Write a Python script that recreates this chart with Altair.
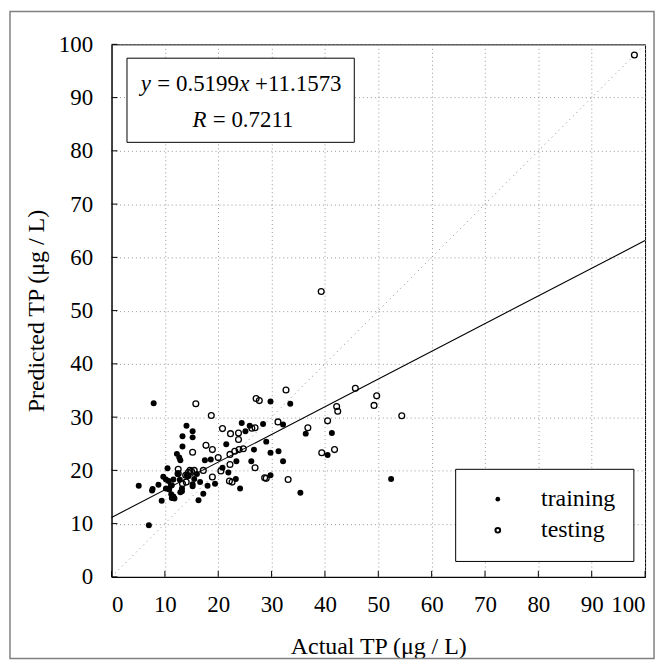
import altair as alt
import pandas as pd

# ---------------- data ----------------
train_x = [5.1, 7.0, 7.9, 7.6, 7.7, 8.8, 9.4, 9.7, 10.2, 10.7, 10.5, 10.2, 11.1, 11.2, 11.6, 11.3,
           11.6, 12.4, 12.25, 12.7, 12.9, 13.3, 13.3, 13.2, 14.05, 15.2, 15.2, 14.4, 15.2, 16.3,
           16.6, 17.2, 18.0, 17.5, 18.6, 19.4, 21.5, 20.8, 21.9, 23.3, 24.1, 24.4, 25.1, 25.9,
           23.4, 26.2, 26.7, 29.8, 33.5, 28.4, 32.15, 29.0, 36.4, 41.3, 29.8, 31.3, 32.15, 40.5,
           29.8, 35.4, 52.4, 15.5, 16.0, 14.1, 15.2, 12.8, 13.2, 11.3, 10.8, 11.8, 12.9]
train_y = [17.1, 9.7, 32.6, 16.2, 16.5, 17.3, 14.3, 18.8, 18.3, 18.0, 20.4, 16.6, 17.1, 15.5, 15.1, 14.8,
           18.3, 19.3, 23.1, 22.4, 21.9, 26.4, 24.5, 16.6, 28.4, 27.35, 26.2, 18.9, 17.4, 14.4,
           17.8, 15.6, 17.1, 21.9, 22.05, 17.5, 24.9, 20.5, 19.6, 18.4, 16.6, 28.9, 27.35, 28.4,
           21.7, 21.7, 23.9, 32.95, 32.5, 28.7, 28.6, 25.4, 26.9, 27.0, 23.3, 23.6, 21.7, 22.9,
           19.1, 15.8, 18.4, 18.4, 19.3, 19.1, 17.0, 18.25, 16.1, 17.2, 16.4, 14.7, 15.9]

test_x = [98.0, 39.3, 15.8, 18.7, 20.8, 22.3, 23.8, 23.8, 26.9, 26.3, 27.1, 27.7, 17.7, 18.9, 15.2,
          20.0, 22.2, 23.1, 23.9, 24.7, 22.2, 20.5, 22.1, 22.6, 18.9, 17.2, 14.7, 14.4, 13.9, 12.5,
          12.5, 13.3, 14.0, 15.0, 15.5, 26.9, 32.7, 42.2, 42.4, 49.7, 49.2, 31.2, 36.8, 40.5, 39.4,
          41.8, 28.7, 29.0, 33.1, 45.7, 54.4]
test_y = [98.0, 53.6, 32.5, 30.3, 27.85, 26.9, 27.0, 25.8, 28.0, 27.9, 33.5, 33.1, 24.7, 23.9, 23.4,
          22.4, 23.0, 23.6, 23.9, 24.05, 21.1, 19.9, 18.0, 17.8, 18.75, 20.0, 20.0, 19.6, 19.1, 20.2,
          19.4, 17.5, 17.8, 19.8, 20.0, 20.5, 35.1, 32.0, 31.1, 34.0, 32.2, 29.1, 28.0, 29.3, 23.3,
          23.9, 18.6, 18.5, 18.3, 35.4, 30.25]

axis_ticks = [0, 10, 20, 30, 40, 50, 60, 70, 80, 90, 100]
fit_slope = 0.5199
fit_intercept = 11.1573
fit_r = 0.7211
series_names = ["training", "testing"]
x_title = "Actual TP (μg / L)"
y_title = "Predicted TP (μg / L)"

# ---------------- layout / style ----------------
W, H = 536, 535
FONT = "Liberation Serif"
FS = 23       # tick labels
TFS = 24      # axis titles
EQ_FS = 23    # equation
LEG_FS = 24   # legend

xs = alt.Scale(domain=[0, 100], nice=False, zero=False)
ys = alt.Scale(domain=[0, 100], nice=False, zero=False)
X = alt.X("x:Q", scale=xs, title=x_title, axis=alt.Axis(values=axis_ticks))
Y = alt.Y("y:Q", scale=ys, title=y_title, axis=alt.Axis(values=axis_ticks))

train = pd.DataFrame({"x": train_x, "y": train_y})
test = pd.DataFrame({"x": test_x, "y": test_y})
fit = pd.DataFrame({"x": [0, 100], "y": [fit_intercept, fit_intercept + fit_slope * 100]})
diag = pd.DataFrame({"x": [0, 100], "y": [0, 100]})
xt = pd.DataFrame({"x": axis_ticks})
yt = pd.DataFrame({"y": axis_ticks})

diag_layer = alt.Chart(diag).mark_line(color="#888888", strokeDash=[1, 4], strokeWidth=1).encode(X, Y)
fit_layer = alt.Chart(fit).mark_line(color="black", strokeWidth=1.1).encode(X, Y)
train_layer = alt.Chart(train).mark_point(filled=True, color="black", size=36, opacity=1).encode(X, Y)
test_layer = alt.Chart(test).mark_point(filled=False, color="black", size=34, strokeWidth=1.3, opacity=1).encode(X, Y)

xtick_layer = alt.Chart(xt).mark_rule(color="black", strokeWidth=1).encode(X, y=alt.value(H), y2=alt.value(H - 6))
ytick_layer = alt.Chart(yt).mark_rule(color="black", strokeWidth=1).encode(Y, x=alt.value(0), x2=alt.value(6))

# legend box (drawn in data space)
leg_box = pd.DataFrame({"x": [64.5], "x2": [97.9], "y": [2.9], "y2": [20.2]})
leg_box_layer = alt.Chart(leg_box).mark_rect(fill="white", stroke="black", strokeWidth=1).encode(
    X, Y, x2="x2:Q", y2="y2:Q")
leg_pts = pd.DataFrame({"x": [72.4, 72.4], "y": [14.6, 8.75], "name": series_names})
leg_train = alt.Chart(leg_pts.iloc[[0]]).mark_point(filled=True, color="black", size=22, opacity=1).encode(X, Y)
leg_test = alt.Chart(leg_pts.iloc[[1]]).mark_point(filled=False, color="black", size=22, opacity=1).encode(X, Y)
leg_txt = alt.Chart(leg_pts.assign(x=80.5)).mark_text(
    align="left", baseline="middle", font=FONT, fontSize=LEG_FS, color="black").encode(X, Y, text="name:N")

# equation box
eq_box = pd.DataFrame({"x": [2.9], "x2": [45.5], "y": [81.6], "y2": [97.4]})
eq_box_layer = alt.Chart(eq_box).mark_rect(fill="white", stroke="black", strokeWidth=1).encode(
    X, Y, x2="x2:Q", y2="y2:Q")
line1 = pd.DataFrame({"x": [5.5], "y": [91.2]})
line2 = pd.DataFrame({"x": [15.2], "y": [84.4]})


def piece(df, txt, dx, italic):
    return alt.Chart(df).mark_text(
        align="left", baseline="alphabetic", font=FONT, fontSize=EQ_FS, color="black",
        fontStyle="italic" if italic else "normal", dx=dx, text=txt).encode(X, Y)


em = EQ_FS
eq_layers = [
    piece(line1, "y", 0, True),
    piece(line1, "= %.4f" % fit_slope, 0.72 * em, False),
    piece(line1, "x", 4.30 * em, True),
    piece(line1, "+%.4f" % fit_intercept, 4.99 * em, False),
    piece(line2, "R", 0, True),
    piece(line2, "= %.4f" % fit_r, 0.88 * em, False),
]

border = alt.Chart(pd.DataFrame({"a": [0]})).mark_rect(
    fill="white", fillOpacity=0, stroke="#808080", strokeWidth=1.5).encode(
    x=alt.value(-102), x2=alt.value(545), y=alt.value(-33), y2=alt.value(617))

chart = alt.layer(
    diag_layer, fit_layer, train_layer, test_layer, xtick_layer, ytick_layer,
    leg_box_layer, leg_train, leg_test, leg_txt, eq_box_layer, *eq_layers, border
).properties(
    width=W, height=H,
    autosize=alt.AutoSizeParams(type="none"),
    padding={"left": 104, "top": 35, "right": 14, "bottom": 87},
    background="white",
).configure_view(
    stroke="black", strokeWidth=1
).configure_axis(
    domain=True, domainColor="black", domainWidth=1,
    ticks=False, tickSize=0,
    grid=True, gridColor="#9a9a9a", gridDash=[1, 3], gridWidth=1,
    labelFont=FONT, labelFontSize=FS, labelColor="black",
    titleFont=FONT, titleFontSize=TFS, titleFontWeight="normal", titleColor="black",
).configure_axisX(
    labelPadding=17, titlePadding=18
).configure_axisY(
    labelPadding=19, titlePadding=10
)

chart.save("out.html", embed_options={"renderer": "svg", "actions": False})
